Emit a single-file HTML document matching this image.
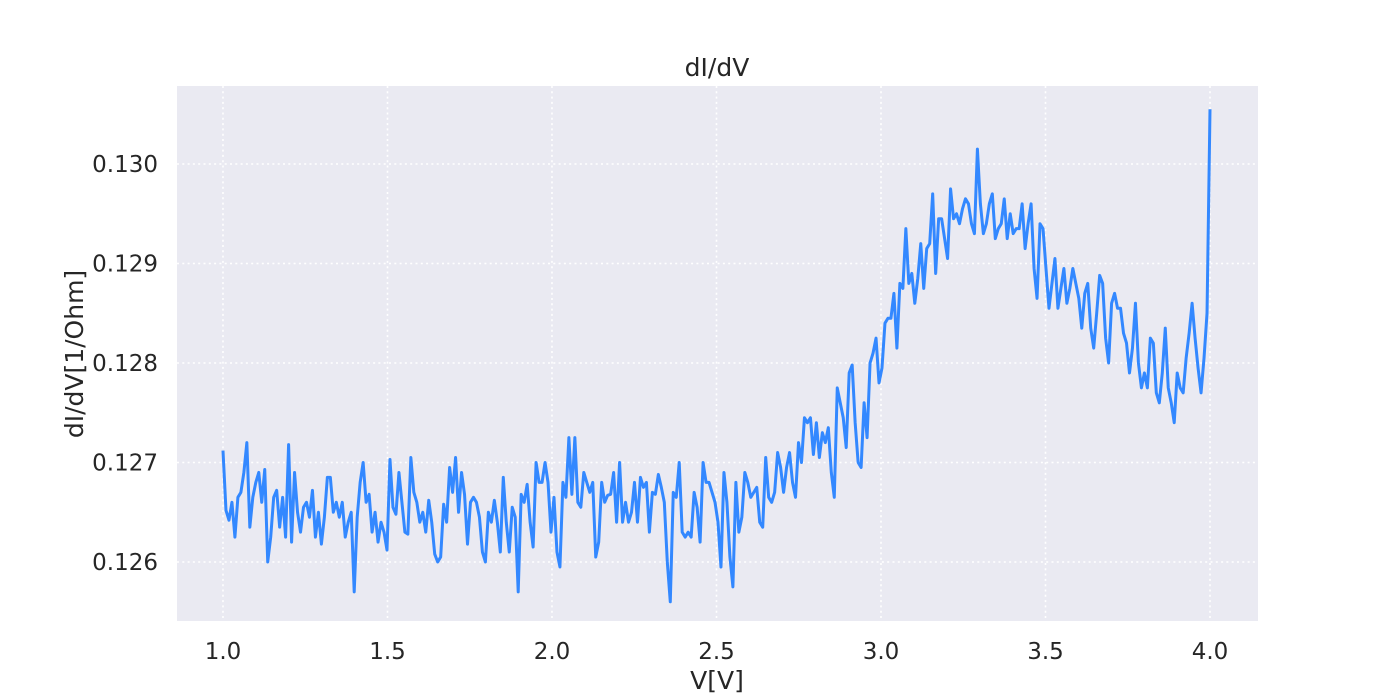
<!DOCTYPE html>
<html><head><meta charset="utf-8"><style>
body{margin:0;background:#fff;}
svg{display:block;font-family:"DejaVu Sans","Liberation Sans",sans-serif;}
</style></head><body>
<svg id="chart" width="1400" height="700">
<rect x="177" y="86" width="1081" height="535" fill="#eaeaf2"/>
<g id="grid"></g>
<g id="ticks"></g>
<g id="series"></g>
<text x="717" y="76" text-anchor="middle" font-size="25" fill="#262626">dI/dV</text>
<text x="717" y="689" text-anchor="middle" font-size="25" fill="#262626">V[V]</text>
<text transform="translate(83,354) rotate(-90)" text-anchor="middle" font-size="25" fill="#262626">dI/dV[1/Ohm]</text>
</svg>
<script>
const xTicks=[1.0,1.5,2.0,2.5,3.0,3.5,4.0];
const xTickLabels=["1.0","1.5","2.0","2.5","3.0","3.5","4.0"];
const yTicks=[0.126,0.127,0.128,0.129,0.130];
const yTickLabels=["0.126","0.127","0.128","0.129","0.130"];
const vStart=1.0, vEnd=4.0;
const didv=[0.12712,0.12652,0.12642,0.12660,0.12625,0.12665,0.12670,0.12690,0.12720,0.12635,0.12665,0.12680,0.12690,0.12660,0.12693,0.12600,0.12625,0.12665,0.12672,0.12635,0.12665,0.12625,0.12718,0.12620,0.12690,0.12650,0.12630,0.12655,0.12660,0.12645,0.12672,0.12625,0.12650,0.12618,0.12645,0.12685,0.12685,0.12650,0.12660,0.12645,0.12660,0.12625,0.12640,0.12650,0.12570,0.12645,0.12680,0.12700,0.12660,0.12668,0.12630,0.12650,0.12620,0.12640,0.12630,0.12612,0.12703,0.12655,0.12648,0.12690,0.12660,0.12630,0.12628,0.12705,0.12670,0.12660,0.12640,0.12650,0.12630,0.12662,0.12640,0.12608,0.12600,0.12605,0.12658,0.12640,0.12695,0.12670,0.12705,0.12650,0.12690,0.12668,0.12618,0.12660,0.12665,0.12660,0.12645,0.12610,0.12600,0.12650,0.12640,0.12662,0.12640,0.12610,0.12685,0.12640,0.12610,0.12655,0.12645,0.12570,0.12668,0.12660,0.12678,0.12640,0.12615,0.12700,0.12680,0.12680,0.12700,0.12680,0.12630,0.12665,0.12610,0.12595,0.12680,0.12665,0.12725,0.12668,0.12725,0.12660,0.12655,0.12690,0.12680,0.12670,0.12680,0.12605,0.12620,0.12680,0.12660,0.12667,0.12668,0.12690,0.12640,0.12700,0.12640,0.12660,0.12640,0.12650,0.12680,0.12640,0.12685,0.12675,0.12680,0.12630,0.12670,0.12668,0.12688,0.12675,0.12660,0.12600,0.12560,0.12670,0.12665,0.12700,0.12630,0.12625,0.12630,0.12625,0.12670,0.12655,0.12620,0.12700,0.12680,0.12680,0.12670,0.12660,0.12640,0.12595,0.12690,0.12660,0.12605,0.12575,0.12680,0.12630,0.12645,0.12690,0.12680,0.12665,0.12670,0.12675,0.12640,0.12635,0.12705,0.12665,0.12660,0.12670,0.12710,0.12695,0.12670,0.12695,0.12710,0.12680,0.12665,0.12720,0.12700,0.12745,0.12740,0.12745,0.12708,0.12740,0.12705,0.12730,0.12720,0.12735,0.12690,0.12665,0.12775,0.12760,0.12745,0.12715,0.12790,0.12798,0.12740,0.12700,0.12695,0.12760,0.12725,0.12800,0.12810,0.12825,0.12780,0.12795,0.12840,0.12845,0.12845,0.12870,0.12815,0.12880,0.12875,0.12935,0.12880,0.12890,0.12860,0.12885,0.12920,0.12875,0.12915,0.12920,0.12970,0.12890,0.12945,0.12945,0.12925,0.12905,0.12975,0.12945,0.12950,0.12940,0.12955,0.12965,0.12960,0.12940,0.12930,0.13015,0.12960,0.12930,0.12940,0.12960,0.12970,0.12925,0.12935,0.12940,0.12965,0.12925,0.12950,0.12930,0.12935,0.12935,0.12960,0.12915,0.12940,0.12960,0.12895,0.12865,0.12940,0.12935,0.12895,0.12855,0.12880,0.12905,0.12855,0.12875,0.12895,0.12860,0.12875,0.12895,0.12880,0.12865,0.12835,0.12870,0.12880,0.12835,0.12815,0.12850,0.12888,0.12880,0.12825,0.12800,0.12860,0.12870,0.12855,0.12855,0.12830,0.12820,0.12790,0.12815,0.12860,0.12800,0.12775,0.12790,0.12775,0.12825,0.12820,0.12770,0.12760,0.12790,0.12835,0.12775,0.12760,0.12740,0.12790,0.12775,0.12770,0.12805,0.12830,0.12860,0.12825,0.12795,0.12770,0.12805,0.12850,0.13055];

const NS="http://www.w3.org/2000/svg";
const xMin=0.8602,xMax=4.1459,yMin=0.125407,yMax=0.130784;
const L=177,R=1258,T=86,B=621;
function xs(v){return L+(v-xMin)/(xMax-xMin)*(R-L);}
function ys(v){return B-(v-yMin)/(yMax-yMin)*(B-T);}
function mk(tag,attrs){const e=document.createElementNS(NS,tag);for(const k in attrs)e.setAttribute(k,attrs[k]);return e;}
const grid=document.getElementById('grid'),ticks=document.getElementById('ticks'),series=document.getElementById('series');
xTicks.forEach((t,i)=>{
  const l=mk('line',{x1:xs(t),x2:xs(t),y1:T,y2:B,stroke:'#fff','stroke-width':1.6,'stroke-dasharray':'2,3.3'});
  
  
  grid.appendChild(l);
  const tx=mk('text',{x:xs(t),y:659,'text-anchor':'middle','font-size':23,fill:'#262626'});
  tx.textContent=xTickLabels[i];
  
  
  ticks.appendChild(tx);
});
yTicks.forEach((t,i)=>{
  const l=mk('line',{x1:L,x2:R,y1:ys(t),y2:ys(t),stroke:'#fff','stroke-width':1.6,'stroke-dasharray':'2,3.3'});
  
  
  grid.appendChild(l);
  const tx=mk('text',{x:158,y:ys(t)+8,'text-anchor':'end','font-size':23,fill:'#262626'});
  tx.textContent=yTickLabels[i];
  
  
  ticks.appendChild(tx);
});
const n=didv.length;
let d='';
didv.forEach((v,i)=>{const x=vStart+(vEnd-vStart)*i/(n-1);d+=(i?'L':'M')+xs(x).toFixed(2)+','+ys(v).toFixed(2);});
const p=mk('path',{d:d,fill:'none',stroke:'#3388ff','stroke-width':3,'stroke-linejoin':'round'});


series.appendChild(p);
</script>
</body></html>
